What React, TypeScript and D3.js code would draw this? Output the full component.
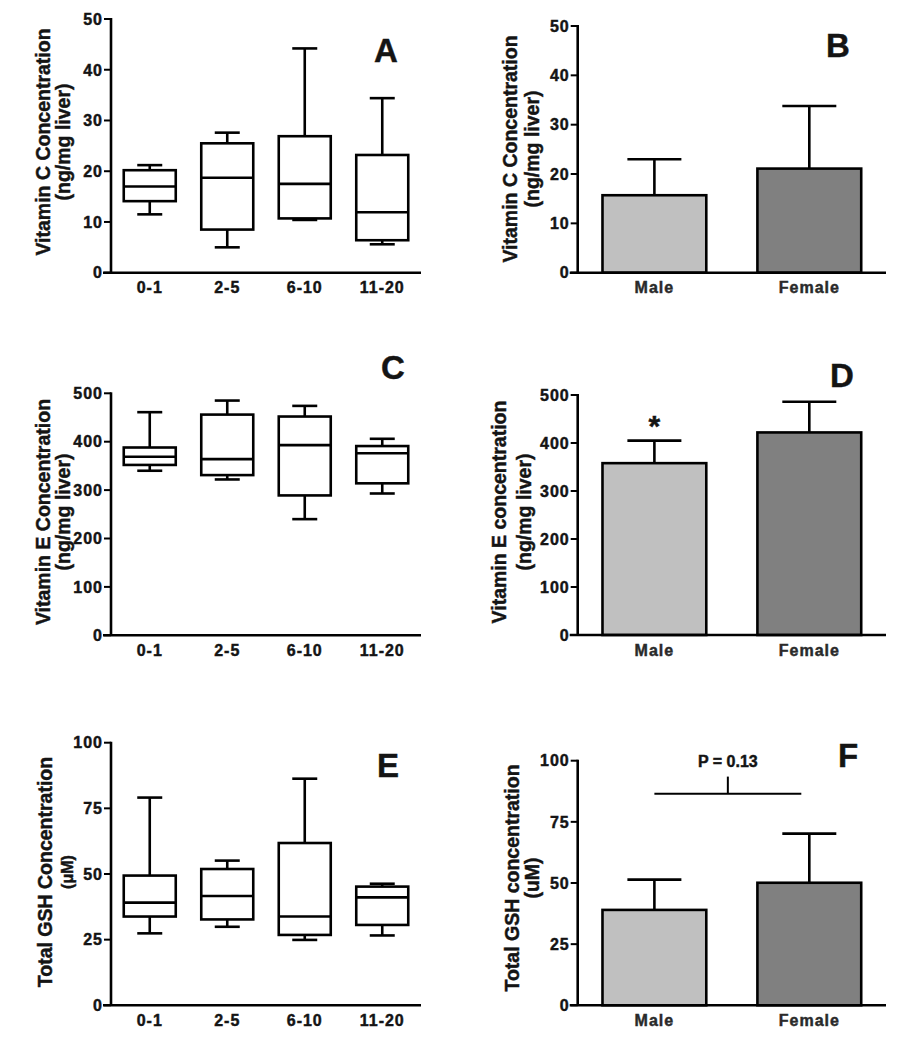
import React from 'react';
import * as d3 from 'd3';

// ---------- DATA ----------
const ageGroups = ['0-1', '2-5', '6-10', '11-20'];
const sexes = ['Male', 'Female'];

// Panel A: Vitamin C by age (box plots)
const vitCMin = [11.5, 5.0, 10.4, 5.6];
const vitCQ1 = [14.1, 8.5, 10.7, 6.4];
const vitCMed = [17.0, 18.7, 17.5, 11.9];
const vitCQ3 = [20.2, 25.5, 26.9, 23.2];
const vitCMax = [21.2, 27.6, 44.2, 34.4];
const vitCTicks = [0, 10, 20, 30, 40, 50];

// Panel B: Vitamin C by sex (mean + SD)
const vitCMean = [15.7, 21.1];
const vitCSD = [7.3, 12.7];

// Panel C: Vitamin E by age
const vitEMin = [340, 322, 240, 293];
const vitEQ1 = [352, 331, 289, 314];
const vitEMed = [369, 364, 393, 376];
const vitEQ3 = [388, 456, 452, 391];
const vitEMax = [461, 485, 474, 406];
const vitETicks = [0, 100, 200, 300, 400, 500];

// Panel D: Vitamin E by sex
const vitEMean = [358, 422];
const vitESD = [47, 64];

// Panel E: Total GSH by age
const gshMin = [27.4, 29.9, 24.9, 26.6];
const gshQ1 = [33.8, 32.7, 26.8, 30.6];
const gshMed = [39.1, 41.6, 33.8, 41.1];
const gshQ3 = [49.4, 51.9, 61.8, 45.2];
const gshMax = [79.1, 55.1, 86.3, 46.3];
const gshTicks = [0, 25, 50, 75, 100];

// Panel F: Total GSH by sex
const gshMean = [39.0, 50.1];
const gshSD = [12.4, 20.1];
const gshPText = 'P = 0.13';
const gshSigLevel = 86.5;
const gshSigTick = 93.5;

const barColors = ['#c0c0c0', '#808080'];

// ---------- STYLE ----------
const FONT = '"Liberation Sans", Arial, Helvetica, sans-serif';
const SW = 2.6;
const TXT = { fontFamily: FONT, fontWeight: 'bold', fill: '#141414', stroke: '#141414', strokeWidth: 0.45 } as any;

function YAxis({ x, y, ticks, x0, x1 }: any) {
  const [r0, r1] = y.range();
  return (
    <g>
      <line x1={x} x2={x} y1={r0} y2={r1 - 1} stroke="#000" strokeWidth={SW} />
      <line x1={x0 - 8} x2={x1} y1={r0} y2={r0} stroke="#000" strokeWidth={SW} />
      {ticks.map((t: number) => (
        <g key={t}>
          <line x1={x - 7} x2={x} y1={y(t)} y2={y(t)} stroke="#000" strokeWidth={2} />
          <text x={x - 8} y={y(t)} dy="0.36em" textAnchor="end" {...TXT}
            fontSize={16} letterSpacing={1}>{t}</text>
        </g>
      ))}
    </g>
  );
}

function Title({ x1, x2, cy, t1, t2, size2 }: any) {
  return (
    <g {...TXT} textAnchor="middle">
      <text transform={`translate(${x1},${cy}) rotate(-90)`} dy="0.36em" fontSize={19.5}>{t1}</text>
      <text transform={`translate(${x2},${cy}) rotate(-90)`} dy="0.36em" fontSize={size2 || 19.5}>{t2}</text>
    </g>
  );
}

function Letter({ x, y, t }: any) {
  return (
    <text x={x} y={y} dy="0.36em" textAnchor="middle" {...TXT} fontSize={33}>{t}</text>
  );
}

function BoxPanel(p: any) {
  const x = d3.scaleBand<string>().domain(ageGroups).range([111, 421]);
  const y = d3.scaleLinear().domain([0, p.top]).range([p.y0, p.yTop]);
  const bw = 52;
  const cw = 25;
  return (
    <g>
      <YAxis x={111} y={y} ticks={p.ticks} x0={111} x1={421} />
      {ageGroups.map((g, i) => {
        const cx = (x(g) as number) + x.bandwidth() / 2;
        return (
          <g key={g}>
            <g stroke="#000" strokeWidth={SW} fill="none">
              <line x1={cx} x2={cx} y1={y(p.max[i])} y2={y(p.q3[i])} />
              <line x1={cx} x2={cx} y1={y(p.q1[i])} y2={y(p.min[i])} />
              <line x1={cx - cw / 2} x2={cx + cw / 2} y1={y(p.max[i])} y2={y(p.max[i])} />
              <line x1={cx - cw / 2} x2={cx + cw / 2} y1={y(p.min[i])} y2={y(p.min[i])} />
              <rect x={cx - bw / 2} width={bw} y={y(p.q3[i])} height={y(p.q1[i]) - y(p.q3[i])} fill="#fff" />
              <line x1={cx - bw / 2} x2={cx + bw / 2} y1={y(p.med[i])} y2={y(p.med[i])} />
            </g>
            <text x={cx} y={p.y0 + 15} dy="0.36em" textAnchor="middle" {...TXT}
              fontSize={16} letterSpacing={1}>{g}</text>
          </g>
        );
      })}
    </g>
  );
}

function BarPanel(p: any) {
  const x = d3.scaleBand<string>().domain(sexes).range([577.7, 886]).paddingInner(0.33).paddingOuter(0.16);
  const y = d3.scaleLinear().domain([0, p.top]).range([p.y0, p.yTop]);
  const cw = 54;
  return (
    <g>
      {sexes.map((s, i) => {
        const bx = x(s) as number;
        const cx = bx + x.bandwidth() / 2;
        const top = y(p.mean[i] + p.sd[i]);
        return (
          <g key={s}>
            <line x1={cx} x2={cx} y1={y(p.mean[i])} y2={top} stroke="#000" strokeWidth={SW} />
            <line x1={cx - cw / 2} x2={cx + cw / 2} y1={top} y2={top} stroke="#000" strokeWidth={SW} />
            <rect x={bx} width={x.bandwidth()} y={y(p.mean[i])} height={p.y0 - y(p.mean[i])}
              fill={barColors[i]} stroke="#000" strokeWidth={SW} />
            <text x={cx} y={p.y0 + 15} dy="0.36em" textAnchor="middle" {...TXT}
              fill="#2a2a2a" stroke="#2a2a2a" fontSize={16} letterSpacing={1}>{s}</text>
          </g>
        );
      })}
      <YAxis x={577.7} y={y} ticks={p.ticks} x0={577.7} x1={886} />
      {p.extra ? p.extra(x, y) : null}
    </g>
  );
}

export default function App() {
  return (
    <svg width={917} height={1050} style={{ position: 'absolute', left: 0, top: 0, background: '#fff' }}>
      <rect width={917} height={1050} fill="#fff" />
      {/* A */}
      <BoxPanel y0={272.7} yTop={19} top={50} ticks={vitCTicks}
        min={vitCMin} q1={vitCQ1} med={vitCMed} q3={vitCQ3} max={vitCMax} />
      <Title x1={43} x2={63} cy={142} t1="Vitamin C Concentration" t2="(ng/mg liver)" />
      <Letter x={386} y={50} t="A" />
      {/* B */}
      <BarPanel y0={272.7} yTop={26} top={50} ticks={vitCTicks} mean={vitCMean} sd={vitCSD} />
      <Title x1={510} x2={532} cy={149} t1="Vitamin C Concentration" t2="(ng/mg liver)" />
      <Letter x={838} y={45} t="B" />
      {/* C */}
      <BoxPanel y0={635.3} yTop={393.3} top={500} ticks={vitETicks}
        min={vitEMin} q1={vitEQ1} med={vitEMed} q3={vitEQ3} max={vitEMax} />
      <Title x1={43} x2={63} cy={512} t1="Vitamin E Concentration" t2="(ng/mg liver)" />
      <Letter x={393} y={367} t="C" />
      {/* D */}
      <BarPanel y0={635} yTop={395} top={500} ticks={vitETicks} mean={vitEMean} sd={vitESD}
        extra={(x: any) => (
          <text x={(x('Male') as number) + x.bandwidth() / 2} y={436} textAnchor="middle"
            {...TXT} fontSize={30}>*</text>
        )} />
      <Title x1={499} x2={524} cy={512} t1="Vitamin E concentration" t2="(ng/mg liver)" />
      <Letter x={842} y={375} t="D" />
      {/* E */}
      <BoxPanel y0={1005.3} yTop={742.7} top={100} ticks={gshTicks}
        min={gshMin} q1={gshQ1} med={gshMed} q3={gshQ3} max={gshMax} />
      <Title x1={45} x2={67} cy={872} t1="Total GSH Concentration" t2="(μM)" size2={16} />
      <Letter x={388} y={765} t="E" />
      {/* F */}
      <BarPanel y0={1005.3} yTop={760.7} top={100} ticks={gshTicks} mean={gshMean} sd={gshSD}
        extra={(x: any, y: any) => {
          const m = (x('Male') as number) + x.bandwidth() / 2;
          const f = (x('Female') as number) + x.bandwidth() / 2 - 8;
          const mid = (m + f) / 2;
          return (
            <g>
              <line x1={m} x2={f} y1={y(gshSigLevel)} y2={y(gshSigLevel)} stroke="#000" strokeWidth={2} />
              <line x1={mid} x2={mid} y1={y(gshSigLevel)} y2={y(gshSigTick)} stroke="#000" strokeWidth={2} />
              <text x={mid} y={761} dy="0.36em" textAnchor="middle" {...TXT}
                fontSize={16}>{gshPText}</text>
            </g>
          );
        }} />
      <Title x1={512} x2={532} cy={878} t1="Total GSH concentration" t2="(uM)" />
      <Letter x={848} y={755} t="F" />
    </svg>
  );
}
